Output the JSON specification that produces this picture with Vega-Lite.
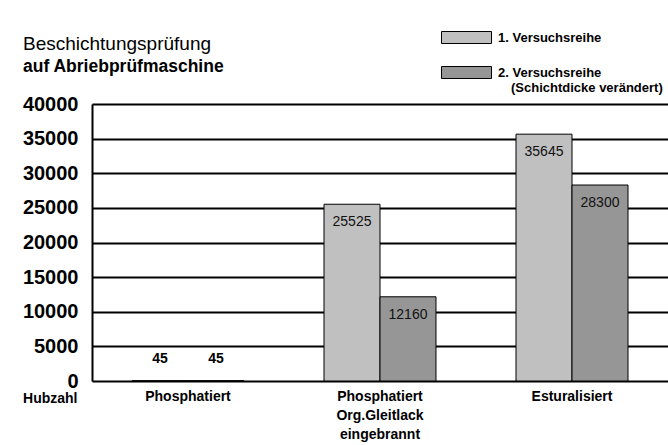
{
  "$schema": "https://vega.github.io/schema/vega-lite/v6.json",
  "autosize": {"type": "none"},
  "padding": {"left": 92, "top": 104, "right": 0, "bottom": 64},
  "width": 576,
  "height": 277,
  "background": "white",
  "config": {
    "font": "Liberation Sans",
    "view": {"stroke": null}
  },
  "title": {
    "text": "Beschichtungsprüfung",
    "subtitle": "auf Abriebprüfmaschine",
    "anchor": "start",
    "frame": "group",
    "dx": -69,
    "offset": -63,
    "fontSize": 19,
    "fontWeight": "normal",
    "color": "black",
    "subtitleFontSize": 17.5,
    "subtitleFontWeight": "bold",
    "subtitleColor": "black",
    "subtitlePadding": 4
  },
  "data": {
    "values": [
      {"gruppe": "Phosphatiert", "serie": "1. Versuchsreihe", "hubzahl": 45},
      {"gruppe": "Phosphatiert", "serie": "2. Versuchsreihe", "hubzahl": 45},
      {"gruppe": "Phosphatiert Org.Gleitlack eingebrannt", "serie": "1. Versuchsreihe", "hubzahl": 25525},
      {"gruppe": "Phosphatiert Org.Gleitlack eingebrannt", "serie": "2. Versuchsreihe", "hubzahl": 12160},
      {"gruppe": "Esturalisiert", "serie": "1. Versuchsreihe", "hubzahl": 35645},
      {"gruppe": "Esturalisiert", "serie": "2. Versuchsreihe", "hubzahl": 28300}
    ]
  },
  "encoding": {
    "x": {
      "field": "gruppe",
      "type": "nominal",
      "sort": null,
      "scale": {"paddingInner": 0.4167, "paddingOuter": 0.2083},
      "axis": {
        "title": null,
        "labelAngle": 0,
        "ticks": false,
        "domain": false,
        "labelFontSize": 14,
        "labelFontWeight": "bold",
        "labelColor": "black",
        "labelPadding": 8,
        "labelLineHeight": 19,
        "labelExpr": "datum.label == 'Phosphatiert Org.Gleitlack eingebrannt' ? ['Phosphatiert', 'Org.Gleitlack', 'eingebrannt'] : datum.label"
      }
    },
    "xOffset": {"field": "serie", "type": "nominal", "scale": {"paddingInner": 0, "paddingOuter": 0}},
    "y": {
      "field": "hubzahl",
      "type": "quantitative",
      "scale": {"domain": [0, 40000], "nice": false},
      "axis": {
        "title": "Hubzahl",
        "titleAngle": 0,
        "titleAlign": "right",
        "titleBaseline": "middle",
        "titleX": -15,
        "titleY": 294,
        "titleFontSize": 14,
        "titleFontWeight": "bold",
        "titleColor": "black",
        "values": [0, 5000, 10000, 15000, 20000, 25000, 30000, 35000, 40000],
        "format": "d",
        "ticks": false,
        "domainColor": "black",
        "domainWidth": 2,
        "grid": true,
        "gridColor": "black",
        "gridWidth": 2,
        "gridOpacity": 1,
        "labelFontSize": 20,
        "labelFontWeight": "bold",
        "labelColor": "black",
        "labelPadding": 14
      }
    }
  },
  "layer": [
    {
      "mark": {"type": "bar", "stroke": "black", "strokeWidth": 1},
      "encoding": {
        "color": {
          "field": "serie",
          "type": "nominal",
          "scale": {"domain": ["1. Versuchsreihe", "2. Versuchsreihe"], "range": ["#c0c0c0", "#969696"]},
          "legend": {
            "title": null,
            "orient": "none",
            "legendX": 349,
            "legendY": -92,
            "symbolType": "M-1,-0.24H1V0.24H-1Z",
            "symbolSize": 2500,
            "symbolStrokeColor": "black",
            "symbolStrokeWidth": 1,
            "labelFontSize": 13,
            "labelFontWeight": "bold",
            "labelColor": "black",
            "labelBaseline": "middle",
            "labelLineHeight": 15,
            "labelOffset": 6,
            "labelLimit": 300,
            "rowPadding": 1,
            "labelExpr": "datum.label == '2. Versuchsreihe' ? ['2. Versuchsreihe', '\u200b\u2002\u2002(Schichtdicke verändert)'] : datum.label"
          }
        }
      }
    },
    {
      "transform": [{"filter": "datum.hubzahl >= 1000"}],
      "mark": {"type": "text", "dy": 18, "fontSize": 14, "color": "#111"},
      "encoding": {"text": {"field": "hubzahl", "type": "quantitative", "format": "d"}}
    },
    {
      "transform": [{"filter": "datum.hubzahl < 1000"}],
      "mark": {"type": "text", "dy": -22, "fontSize": 14, "fontWeight": "bold", "color": "black"},
      "encoding": {"text": {"field": "hubzahl", "type": "quantitative", "format": "d"}}
    }
  ]
}
